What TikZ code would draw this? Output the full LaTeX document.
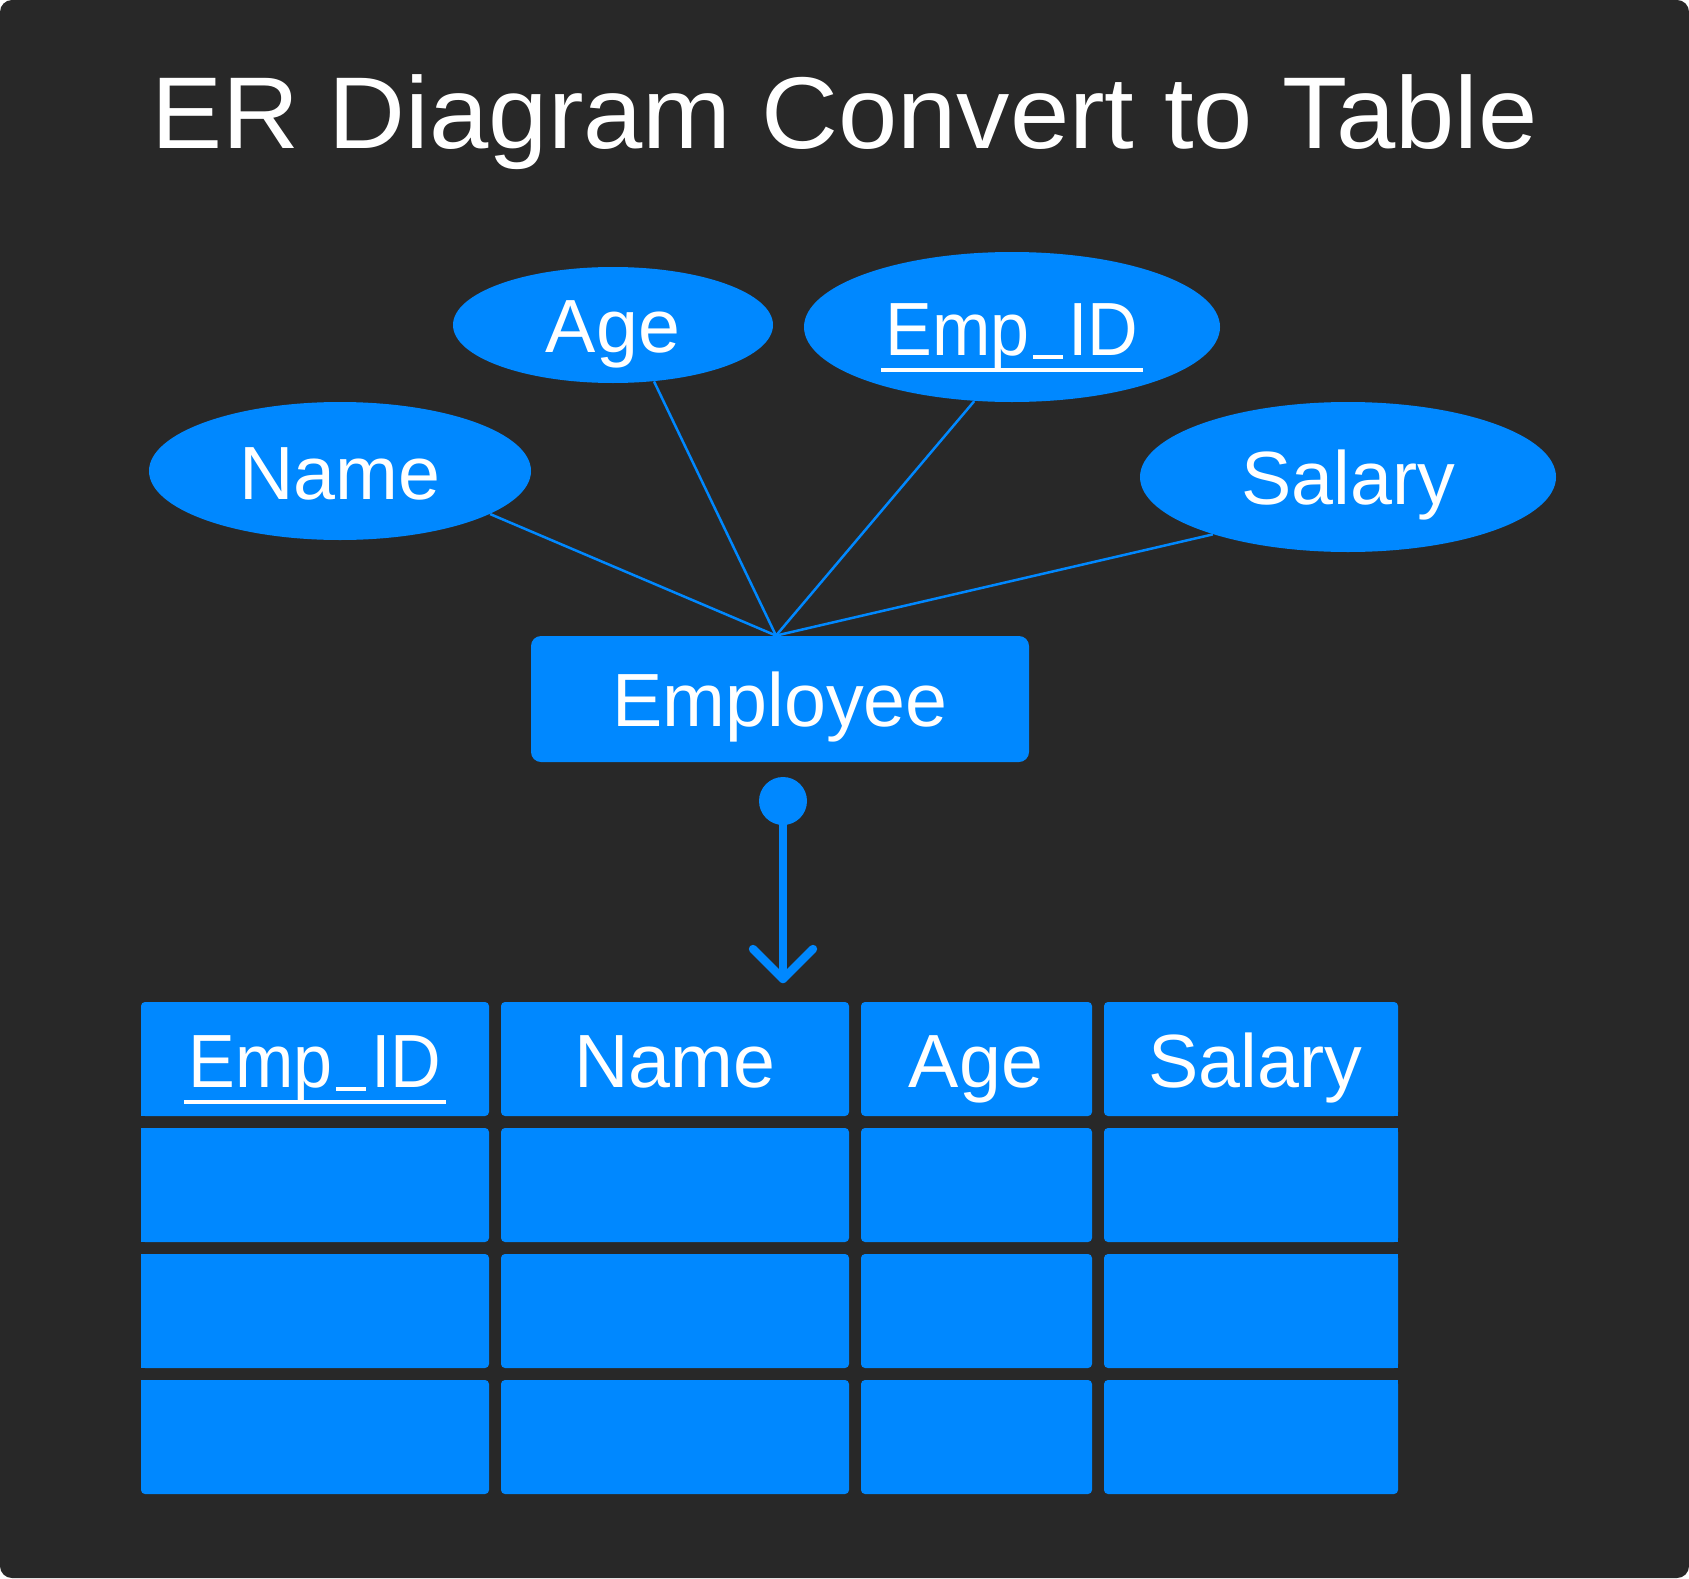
\documentclass[tikz,border=0pt]{standalone}
\usepackage{fontspec}
\setmainfont{Liberation Sans}
\usetikzlibrary{shapes.geometric}
\definecolor{bg}{HTML}{282828}
\definecolor{blu}{HTML}{0088FF}
\newcommand{\myus}{\kern1.5pt\rule[-2pt]{16.5pt}{2pt}\kern2.5pt}
\newcommand{\empid}{\scalebox{0.93}[1]{Emp\myus ID}}
\begin{document}
\begin{tikzpicture}[x=0.5pt,y=-0.5pt,
  attr/.style={ellipse, fill=blu, inner sep=0pt},
  lbl/.style={text=white, font=\fontsize{37.7}{40}\selectfont, inner sep=0pt, anchor=base},
  link/.style={draw=blu, line width=1.25pt},
  cell/.style={fill=blu, rounded corners=2pt},
  sq/.style={fill=blu},
  arrowline/.style={draw=blu, line width=4.2pt, line cap=round, line join=round}]
\useasboundingbox (0,0) rectangle (1689,1578);
\fill[white] (0,0) rectangle (1689,1578);
\fill[bg, rounded corners=6pt] (0,0) rectangle (1689,1578);

% title
\node[text=white, font=\fontsize{51}{55}\selectfont, inner sep=0pt, anchor=base] (title) at (844.5,149) {\scalebox{1.045}[1]{ER Diagram Convert to Table}};

% attributes
\node[attr, minimum width=160pt, minimum height=58pt] (age) at (613,325) {};
\node[attr, minimum width=208pt, minimum height=75pt] (eid) at (1012,327) {};
\node[attr, minimum width=191pt, minimum height=69pt] (name) at (340,471) {};
\node[attr, minimum width=208pt, minimum height=75pt] (sal) at (1348,477) {};

% entity
\node[fill=blu, rounded corners=5pt, minimum width=249pt, minimum height=63pt, inner sep=0pt] (emp) at (780,699) {};
\coordinate (hub) at ([xshift=-2pt]emp.north);

% links
\draw[link] (name.-16) -- (hub);
\draw[link] (age.-54) -- (hub);
\draw[link] (eid.-117) -- (hub);
\draw[link] (sal.-157) -- (hub);

% labels
\node[lbl] (agetxt) at (613,352) {Age};
\node[lbl] (eidtxt) at (1012,355) {\empid};
\draw[white, line width=1.75pt] ([xshift=-2pt,yshift=-7.5pt]eidtxt.base west) -- ([xshift=2pt,yshift=-7.5pt]eidtxt.base east);
\node[lbl] (nametxt) at (340,499) {Name};
\node[lbl] (saltxt) at (1348,504) {Salary};
\node[lbl] (emptxt) at (780,726) {Employee};

% arrow
\node[circle, fill=blu, minimum size=24pt, inner sep=0pt] (dot) at (783,801) {};
\coordinate (tip) at (783,979);
\coordinate (al) at (753,949);
\coordinate (ar) at (813,949);
\draw[arrowline] (dot.center) -- (tip);
\draw[arrowline] (al) -- (tip) -- (ar);

% table cells
\foreach \xa/\xb in {141/489,501/849,861/1092,1104/1398}
  \foreach \k in {0,1,2,3}
    \fill[cell] (\xa,{1002+126*\k}) rectangle (\xb,{1116+126*\k});
% square outer edges
\fill[sq] (141,1010) rectangle (149,1116);
\fill[sq] (141,1128) rectangle (149,1242);
\fill[sq] (141,1254) rectangle (149,1368);
\fill[sq] (141,1380) rectangle (149,1486);
\fill[sq] (1390,1010) rectangle (1398,1116);
\fill[sq] (1390,1128) rectangle (1398,1242);
\fill[sq] (1390,1254) rectangle (1398,1368);
\fill[sq] (1390,1380) rectangle (1398,1486);

% header labels
\node[lbl] (h1) at (315,1087) {\empid};
\draw[white, line width=1.75pt] ([xshift=-2pt,yshift=-7.5pt]h1.base west) -- ([xshift=2pt,yshift=-7.5pt]h1.base east);
\node[lbl] (h2) at (675,1087) {Name};
\node[lbl] (h3) at (976,1087) {Age};
\node[lbl] (h4) at (1255,1087) {Salary};
\end{tikzpicture}
\end{document}
